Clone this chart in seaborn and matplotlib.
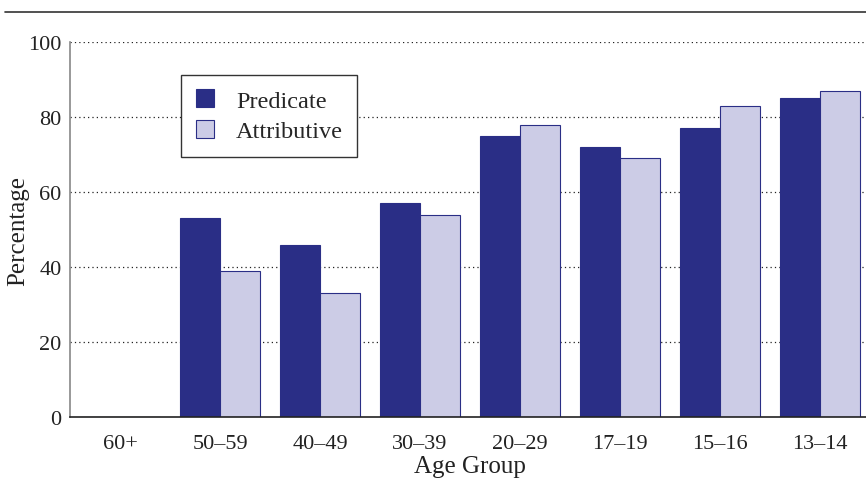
import pandas as pd
import numpy as np
import matplotlib
matplotlib.use('Agg')
import matplotlib.pyplot as plt
import seaborn as sns
from matplotlib.patches import Patch
from matplotlib.lines import Line2D

# --- DADOS ---
age_groups = ['60+', '50–59', '40–49', '30–39', '20–29', '17–19', '15–16', '13–14']
predicate = [0, 53, 46, 57, 75, 72, 77, 85]
attributive = [0, 39, 33, 54, 78, 69, 83, 87]
series_names = ['Predicate', 'Attributive']

dark = '#2a2e86'
light = '#cccce6'

df = pd.DataFrame({
    'Age Group': age_groups * 2,
    'Percentage': predicate + attributive,
    'Form': [series_names[0]] * len(age_groups) + [series_names[1]] * len(age_groups),
})

sns.set_style('white')
plt.rcParams['font.family'] = ['Liberation Serif', 'DejaVu Serif']

fig = plt.figure(figsize=(8.66, 4.81), dpi=100)
ax = fig.add_axes([70 / 866, 63 / 481, 800 / 866, 375 / 481])

sns.barplot(data=df, x='Age Group', y='Percentage', hue='Form', order=age_groups,
            hue_order=series_names, palette=[dark, light], width=0.8,
            edgecolor=dark, linewidth=0.8, saturation=1, legend=False, ax=ax)

ax.set_xlim(-0.5, 7.5)
ax.set_ylim(0, 100)
ax.set_yticks([0, 20, 40, 60, 80, 100])
for v in [20, 40, 60, 80, 100]:
    ax.axhline(v, color='#222222', linestyle=(0, (1, 2.5)), linewidth=0.9, zorder=0)

ax.tick_params(axis='y', length=0, labelsize=16, pad=6, labelcolor='#222222')
ax.tick_params(axis='x', which='major', length=0, labelsize=16, pad=12, labelcolor='#222222')
ax.set_xticks(np.arange(0.5, 7.5, 1), minor=True)
ax.tick_params(axis='x', which='minor', direction='in', length=5, width=0.8, color='#222222')

for side in ['top', 'right']:
    ax.spines[side].set_visible(False)
ax.spines['left'].set_color('#888888')
ax.spines['left'].set_linewidth(1.2)
ax.spines['bottom'].set_color('#222222')
ax.spines['bottom'].set_linewidth(1.2)

ax.set_xlabel('Age Group', fontsize=18, color='#222222')
ax.set_ylabel('Percentage', fontsize=18, color='#222222')
ax.xaxis.set_label_coords(0.5, -0.131)
ax.yaxis.set_label_coords(-0.065, 0.5)
ax.xaxis.label.set_va('center')
ax.yaxis.label.set_va('center')

handles = [Patch(facecolor=dark, edgecolor=dark, linewidth=0.8),
           Patch(facecolor=light, edgecolor=dark, linewidth=0.8)]
leg = ax.legend(handles, series_names, loc='upper left', bbox_to_anchor=(0.139, 0.913),
                fontsize=17.5, frameon=True, fancybox=False, framealpha=1,
                handlelength=0.75, handleheight=0.75, handletextpad=0.9,
                borderpad=0.6, labelspacing=0.35, borderaxespad=0)
leg.get_frame().set_edgecolor('#333333')
leg.get_frame().set_linewidth(1.0)

# linha superior de cabeçalho
fig.add_artist(Line2D([5 / 866, 1.0], [1 - 13 / 481, 1 - 13 / 481],
                      color='#333333', linewidth=1.2))

fig.savefig('out.png', dpi=100)
